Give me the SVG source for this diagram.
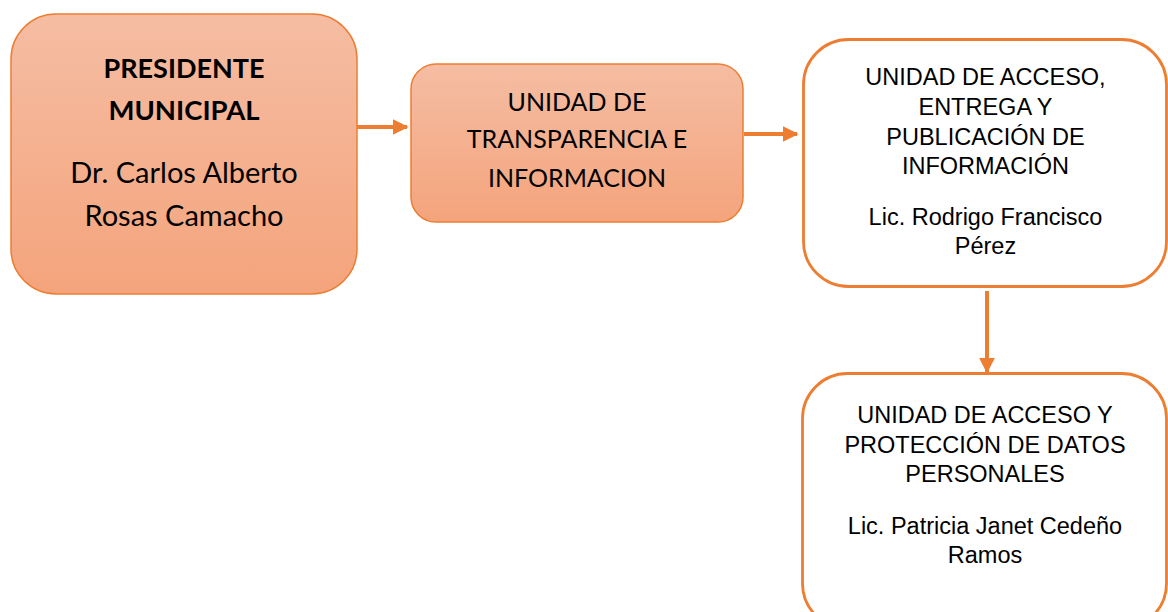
<svg xmlns="http://www.w3.org/2000/svg" width="1168" height="612" viewBox="0 0 1168 612">
<style>
.fill{fill:url(#g);stroke:#ED7D31;stroke-width:1.5}
.white{fill:#fff;stroke:#ED7D31;stroke-width:2.8}
.cal{font-family:Lato,"Open Sans","Liberation Sans",sans-serif;fill:#000;text-anchor:middle}
.ar{font-family:"Liberation Sans",Arial,sans-serif;font-size:23.5px;fill:#000;text-anchor:middle}
.conn{stroke:#ED7D31;stroke-width:4;fill:none}
</style>
<defs>
<linearGradient id="g" x1="0" y1="0" x2="0" y2="1">
<stop offset="0" stop-color="#F5BDA3"/>
<stop offset="1" stop-color="#F4A47C"/>
</linearGradient>
<marker id="ah" viewBox="0 0 10 10" refX="9" refY="5" markerWidth="4" markerHeight="4" orient="auto" markerUnits="strokeWidth">
<path d="M0,0 L10,5 L0,10 z" fill="#ED7D31"/>
</marker>
</defs>
<rect width="1168" height="612" fill="#fff"/>
<g id="connectors">
<line class="conn" x1="354" y1="127" x2="407" y2="127" marker-end="url(#ah)"/>
<line class="conn" x1="744" y1="134" x2="797" y2="134" marker-end="url(#ah)"/>
<line class="conn" x1="987" y1="291" x2="987" y2="372" marker-end="url(#ah)"/>
</g>
<g id="presidente">
<rect class="fill" x="11" y="14" width="346" height="280" rx="45"/>
<text class="cal" x="184" y="78" font-size="27" font-weight="bold">PRESIDENTE</text>
<text class="cal" x="184" y="120" font-size="27.5" font-weight="bold">MUNICIPAL</text>
<text class="cal" x="184" y="183" font-size="29">Dr. Carlos Alberto</text>
<text class="cal" x="184" y="226" font-size="29">Rosas Camacho</text>
</g>
<g id="transparencia">
<rect class="fill" x="411" y="64" width="332" height="158" rx="25"/>
<text class="cal" x="577" y="111" font-size="25">UNIDAD DE</text>
<text class="cal" x="577" y="148" font-size="25">TRANSPARENCIA E</text>
<text class="cal" x="577" y="187" font-size="25">INFORMACION</text>
</g>
<g id="acceso">
<rect class="white" x="803.5" y="39.5" width="363" height="247" rx="45"/>
<text class="ar" x="985.5" y="85">UNIDAD DE ACCESO,</text>
<text class="ar" x="985.5" y="115">ENTREGA Y</text>
<text class="ar" x="985.5" y="145">PUBLICACIÓN DE</text>
<text class="ar" x="985.5" y="174">INFORMACIÓN</text>
<text class="ar" x="985.5" y="225">Lic. Rodrigo Francisco</text>
<text class="ar" x="985.5" y="254">Pérez</text>
</g>
<g id="proteccion">
<rect class="white" x="802.5" y="373.5" width="364" height="255" rx="45"/>
<text class="ar" x="985" y="423">UNIDAD DE ACCESO Y</text>
<text class="ar" x="985" y="453">PROTECCIÓN DE DATOS</text>
<text class="ar" x="985" y="482">PERSONALES</text>
<text class="ar" x="985" y="534">Lic. Patricia Janet Cedeño</text>
<text class="ar" x="985" y="563">Ramos</text>
</g>
</svg>
